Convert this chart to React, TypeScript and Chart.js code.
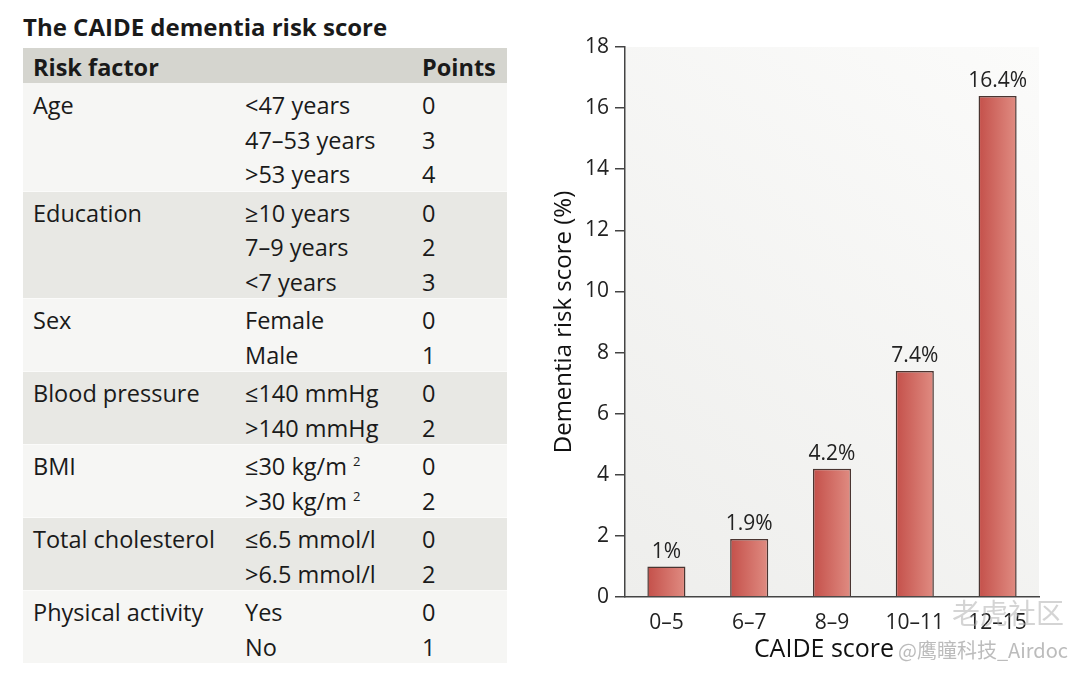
import React, { useEffect, useRef } from "react";
import { Chart, registerables } from "chart.js";

Chart.register(...registerables);

// ---- Data ----
const tableTitle = "The CAIDE dementia risk score";
const headerFactor = "Risk factor";
const headerPoints = "Points";
const riskFactors = ["Age", "Education", "Sex", "Blood pressure", "BMI", "Total cholesterol", "Physical activity"];
const levels: string[][] = [
  ["<47 years", "47–53 years", ">53 years"],
  ["≥10 years", "7–9 years", "<7 years"],
  ["Female", "Male"],
  ["≤140 mmHg", ">140 mmHg"],
  ["≤30 kg/m^2", ">30 kg/m^2"],
  ["≤6.5 mmol/l", ">6.5 mmol/l"],
  ["Yes", "No"],
];
const points: number[][] = [[0, 3, 4], [0, 2, 3], [0, 1], [0, 2], [0, 2], [0, 2], [0, 1]];

const caideCategories = ["0–5", "6–7", "8–9", "10–11", "12–15"];
const riskValues = [1, 1.9, 4.2, 7.4, 16.4];
const yTitle = "Dementia risk score (%)";
const xTitle = "CAIDE score";
const watermark1 = "老虎社区";
const watermark2 = "@鹰瞳科技_Airdoc";

const FONT = "'Open Sans', 'Noto Sans', sans-serif";

function renderLevel(s: string) {
  if (s.endsWith("^2")) {
    return (
      <span>
        {s.slice(0, -2)}{" "}
        <span style={{ fontSize: 13, position: "relative", top: -9 }}>2</span>
      </span>
    );
  }
  return s;
}

function RiskTable() {
  const rowH = 34.5;
  return (
    <div style={{ position: "absolute", left: 23, top: 0, width: 484, fontFamily: FONT, color: "#1a1a1a" }}>
      <div style={{ height: 48, fontSize: 24, fontWeight: 700, lineHeight: "54px", whiteSpace: "nowrap" }}>{tableTitle}</div>
      <div style={{ height: 35, background: "#d5d5cf", position: "relative", fontSize: 23.5, fontWeight: 700, lineHeight: "38px" }}>
        <span style={{ position: "absolute", left: 10 }}>{headerFactor}</span>
        <span style={{ position: "absolute", left: 399 }}>{headerPoints}</span>
      </div>
      {riskFactors.map((f, gi) => (
        <div
          key={f}
          style={{
            position: "relative",
            background: gi % 2 === 0 ? "#f6f6f4" : "#e8e8e4",
            paddingTop: gi > 0 ? 3 : 4,
            paddingBottom: 0,
            borderTop: gi > 0 ? "1px solid #fbfbfa" : "none",
            fontSize: 23.5,
          }}
        >
          {levels[gi].map((lv, ri) => (
            <div key={ri} style={{ position: "relative", height: rowH, lineHeight: rowH + "px", whiteSpace: "nowrap" }}>
              {ri === 0 && <span style={{ position: "absolute", left: 10, top: 1 }}>{f}</span>}
              <span style={{ position: "absolute", left: 222, top: 1 }}>{renderLevel(lv)}</span>
              <span style={{ position: "absolute", left: 399, top: 1 }}>{points[gi][ri]}</span>
            </div>
          ))}
        </div>
      ))}
    </div>
  );
}

function RiskChart() {
  const ref = useRef<HTMLCanvasElement>(null);
  useEffect(() => {
    if (!ref.current) return;
    const bgPlugin = {
      id: "plotBg",
      beforeDraw(chart: any) {
        const { ctx, chartArea: a } = chart;
        const g = ctx.createLinearGradient(a.left, a.bottom, a.right, a.top);
        g.addColorStop(0, "#eeeeec");
        g.addColorStop(1, "#fbfbfa");
        ctx.save();
        ctx.fillStyle = g;
        ctx.fillRect(a.left, a.top, a.right - a.left, a.bottom - a.top);
        ctx.restore();
      },
    };
    const labelPlugin = {
      id: "valueLabels",
      afterDatasetsDraw(chart: any) {
        const { ctx } = chart;
        const meta = chart.getDatasetMeta(0);
        ctx.save();
        ctx.font = `21px ${FONT}`;
        ctx.fillStyle = "#222";
        ctx.textAlign = "center";
        ctx.textBaseline = "bottom";
        meta.data.forEach((bar: any, i: number) => {
          ctx.fillText(String(riskValues[i]) + "%", bar.x, bar.y - 4);
        });
        // x-axis title, slightly left of the plot centre as in the reference
        const xs = chart.scales.x;
        ctx.font = `25px ${FONT}`;
        ctx.fillStyle = "#111";
        ctx.textBaseline = "middle";
        ctx.fillText(xTitle, (xs.left + xs.right) / 2 - 8, xs.bottom - 26);
        ctx.restore();
      },
    };
    const chart = new Chart(ref.current, {
      type: "bar",
      data: {
        labels: caideCategories,
        datasets: [
          {
            data: riskValues,
            backgroundColor: (c: any) => {
              const ch = c.chart;
              const a = ch.chartArea;
              if (!a || c.dataIndex == null || !ch.scales.x) return "#d06a62";
              const cx = ch.scales.x.getPixelForValue(c.dataIndex);
              const w = ((a.right - a.left) / caideCategories.length) * 0.46;
              const g = ch.ctx.createLinearGradient(cx - w / 2, 0, cx + w / 2, 0);
              g.addColorStop(0, "#c4504a");
              g.addColorStop(1, "#e08c82");
              return g;
            },
            borderColor: "#4a3531",
            borderWidth: 1.5,
            borderSkipped: "bottom",
            barPercentage: 0.46,
            categoryPercentage: 1,
          },
        ],
      },
      options: {
        animation: false,
        responsive: false,
        layout: { padding: { top: 47, right: 41, left: 0, bottom: 0 } },
        plugins: { legend: { display: false }, tooltip: { enabled: false } },
        scales: {
          x: {
            type: "category",
            grid: { display: false },
            border: { display: true, color: "#444", width: 1.5 },
            ticks: { font: { size: 21, family: FONT }, color: "#222", padding: 5 },
            afterFit(scale: any) {
              scale.height = 79;
            },
          },
          y: {
            min: 0,
            max: 18,
            ticks: { stepSize: 2, font: { size: 21, family: FONT }, color: "#222", padding: 6 },
            grid: { drawOnChartArea: false, drawTicks: true, tickLength: 10, color: "#444", lineWidth: 1.5 },
            border: { display: true, color: "#444", width: 1.5 },
            title: {
              display: true,
              text: yTitle,
              font: { size: 24, family: FONT },
              color: "#111",
              padding: { top: 10, bottom: 0 },
            },
            afterFit(scale: any) {
              scale.width = 85;
            },
          },
        },
      },
      plugins: [bgPlugin, labelPlugin],
    } as any);
    return () => chart.destroy();
  }, []);
  return (
    <div style={{ position: "absolute", left: 540, top: 0, width: 540, height: 676 }}>
      <canvas ref={ref} width={540} height={676} />
    </div>
  );
}

export default function App() {
  return (
    <div style={{ position: "absolute", left: 0, top: 0, width: 1080, height: 676, background: "#ffffff", overflow: "hidden" }}>
      <RiskTable />
      <RiskChart />
      <div
        style={{
          position: "absolute",
          left: 952,
          top: 592,
          fontFamily: "'Noto Sans CJK SC', sans-serif",
          fontSize: 28,
          color: "rgba(170,170,170,0.5)",
          whiteSpace: "nowrap",
          pointerEvents: "none",
        }}
      >
        {watermark1}
      </div>
      <div
        style={{
          position: "absolute",
          left: 898,
          top: 635,
          fontFamily: "'Noto Sans CJK SC', sans-serif",
          fontSize: 20,
          color: "rgba(160,160,160,0.7)",
          whiteSpace: "nowrap",
          pointerEvents: "none",
        }}
      >
        {watermark2}
      </div>
    </div>
  );
}
